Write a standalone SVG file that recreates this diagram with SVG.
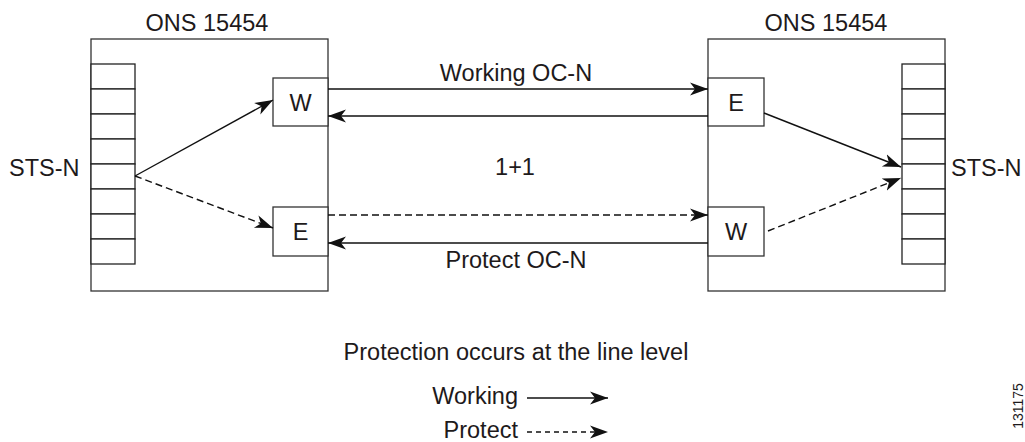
<svg xmlns="http://www.w3.org/2000/svg" width="1025" height="442" viewBox="0 0 1025 442">
<style>
text{font-family:"Liberation Sans",Arial,Helvetica,sans-serif;font-size:23.5px;fill:#1e1a1b}
.c{text-anchor:middle}
.box{fill:#fff;stroke:#333;stroke-width:1.3}
.cell{fill:#fff;stroke:#222;stroke-width:1.3}
.ln{fill:none;stroke:#111;stroke-width:1.4}
.ds{stroke-dasharray:7,4}
.lds{stroke-dasharray:5,4}
</style>
<defs>
<marker id="ah" markerUnits="userSpaceOnUse" markerWidth="20" markerHeight="16" refX="18" refY="7" orient="auto">
<path d="M0,0.5 L18,7 L0,13.5 L5,7 z" fill="#111"/>
</marker>
</defs>
<g id="ons-left">
<rect class="box" x="91" y="39" width="237" height="252"/>
<text class="c" x="207" y="31">ONS 15454</text>
</g>
<g id="ons-right">
<rect class="box" x="708" y="39" width="237" height="252"/>
<text class="c" x="826" y="31">ONS 15454</text>
</g>
<g id="sts-left">
<rect class="cell" x="91" y="64" width="44" height="25"/>
<rect class="cell" x="91" y="89" width="44" height="25"/>
<rect class="cell" x="91" y="114" width="44" height="25"/>
<rect class="cell" x="91" y="139" width="44" height="25"/>
<rect class="cell" x="91" y="164" width="44" height="25"/>
<rect class="cell" x="91" y="189" width="44" height="25"/>
<rect class="cell" x="91" y="214" width="44" height="25"/>
<rect class="cell" x="91" y="239" width="44" height="25"/>
<text x="9" y="176">STS-N</text>
</g>
<g id="sts-right">
<rect class="cell" x="902" y="64" width="43" height="25"/>
<rect class="cell" x="902" y="89" width="43" height="25"/>
<rect class="cell" x="902" y="114" width="43" height="25"/>
<rect class="cell" x="902" y="139" width="43" height="25"/>
<rect class="cell" x="902" y="164" width="43" height="25"/>
<rect class="cell" x="902" y="189" width="43" height="25"/>
<rect class="cell" x="902" y="214" width="43" height="25"/>
<rect class="cell" x="902" y="239" width="43" height="25"/>
<text x="951" y="176">STS-N</text>
</g>
<g id="left-w">
<rect class="box" x="273" y="78" width="55" height="48"/>
<text class="c" x="300.5" y="111">W</text>
</g>
<g id="left-e">
<rect class="box" x="273" y="207" width="55" height="49"/>
<text class="c" x="300.5" y="240">E</text>
</g>
<g id="right-e">
<rect class="box" x="708" y="78" width="56" height="48"/>
<text class="c" x="736" y="111">E</text>
</g>
<g id="right-w">
<rect class="box" x="708" y="207" width="56" height="49"/>
<text class="c" x="736" y="240">W</text>
</g>
<g id="connectors">
<line class="ln" x1="135" y1="176" x2="273" y2="100" marker-end="url(#ah)"/>
<line class="ln ds" x1="135" y1="176" x2="273" y2="228" marker-end="url(#ah)"/>
<line class="ln" x1="328" y1="89" x2="708" y2="89" marker-end="url(#ah)"/>
<line class="ln" x1="708" y1="116" x2="328" y2="116" marker-end="url(#ah)"/>
<line class="ln ds" x1="328" y1="215" x2="708" y2="215" marker-end="url(#ah)"/>
<line class="ln" x1="708" y1="243" x2="328" y2="243" marker-end="url(#ah)"/>
<line class="ln" x1="764" y1="113" x2="901" y2="167" marker-end="url(#ah)"/>
<line class="ln ds" x1="768" y1="231" x2="901" y2="178" marker-end="url(#ah)"/>
</g>
<g id="labels">
<text class="c" x="516" y="81">Working OC-N</text>
<text class="c" x="515" y="175">1+1</text>
<text class="c" x="516" y="268">Protect OC-N</text>
</g>
<g id="legend">
<text class="c" x="516" y="360">Protection occurs at the line level</text>
<text x="518" y="404" text-anchor="end">Working</text>
<line class="ln" x1="527" y1="398" x2="608" y2="398" marker-end="url(#ah)"/>
<text x="518" y="438" text-anchor="end">Protect</text>
<line class="ln lds" x1="527" y1="432" x2="608" y2="432" marker-end="url(#ah)"/>
</g>
<text x="1023" y="406" text-anchor="middle" transform="rotate(-90 1023 406)" style="font-size:14px">131175</text>
</svg>
